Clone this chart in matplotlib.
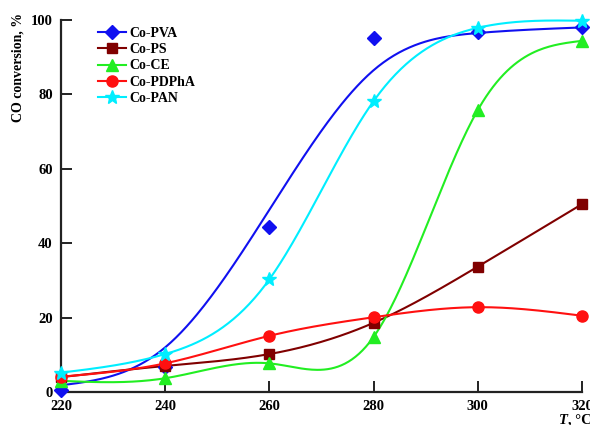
import numpy as np
import matplotlib
matplotlib.use("Agg")
import matplotlib.pyplot as plt
from matplotlib.lines import Line2D

temps = [220, 240, 260, 280, 300, 320]
co_pva = [0.5, 6.8, 44.4, 95.2, 96.9, 98.2]
co_pva_fit = [1.8, 12.0, 49.0, 86.5, 96.5, 98.0]
co_ps = [4.0, 7.0, 10.2, 18.6, 33.7, 50.5]
co_ce = [3.0, 3.7, 7.7, 14.8, 75.8, 94.4]
co_pdpha = [4.1, 7.7, 15.1, 20.1, 22.8, 20.5]
co_pan = [5.2, 10.2, 30.3, 78.2, 97.9, 99.8]
xticks = [220, 240, 260, 280, 300, 320]
yticks = [0, 20, 40, 60, 80, 100]


def natural_spline(x, y, n=300):
    x = np.asarray(x, float)
    y = np.asarray(y, float)
    m = len(x)
    h = np.diff(x)
    A = np.zeros((m, m))
    b = np.zeros(m)
    A[0, 0] = 1
    A[-1, -1] = 1
    for i in range(1, m - 1):
        A[i, i - 1] = h[i - 1]
        A[i, i] = 2 * (h[i - 1] + h[i])
        A[i, i + 1] = h[i]
        b[i] = 6 * ((y[i + 1] - y[i]) / h[i] - (y[i] - y[i - 1]) / h[i - 1])
    M = np.linalg.solve(A, b)
    xs = np.linspace(x[0], x[-1], n)
    ys = np.empty_like(xs)
    for k, xv in enumerate(xs):
        i = min(np.searchsorted(x, xv, side="right") - 1, m - 2)
        t1 = x[i + 1] - xv
        t0 = xv - x[i]
        hi = h[i]
        ys[k] = (M[i] * t1 ** 3 / (6 * hi) + M[i + 1] * t0 ** 3 / (6 * hi)
                 + (y[i] / hi - M[i] * hi / 6) * t1
                 + (y[i + 1] / hi - M[i + 1] * hi / 6) * t0)
    return xs, ys


plt.rcParams['font.family'] = ['Liberation Serif', 'DejaVu Serif']
plt.rcParams['font.weight'] = 'bold'

fig = plt.figure(figsize=(5.9, 4.25), dpi=100)
ax = fig.add_axes([61 / 590, 1 - 392 / 425, 521 / 590, 372 / 425])

series = [
    ("Co-PVA", co_pva, co_pva_fit, '#1010F0', 'D', 7),
    ("Co-PS", co_ps, co_ps, '#800000', 's', 6.5),
    ("Co-CE", co_ce, co_ce, '#22EE22', '^', 8),
    ("Co-PDPhA", co_pdpha, co_pdpha, '#FF1010', 'o', 8),
    ("Co-PAN", co_pan, co_pan, '#00EEFF', '*', 10),
]

handles = []
for name, pts, curve, color, mk, ms in series:
    xs, ys = natural_spline(temps, curve)
    ax.plot(xs, ys, color=color, lw=1.5, clip_on=False, zorder=2)
    ax.plot(temps, pts, linestyle='none', marker=mk, color=color, ms=ms,
            clip_on=False, zorder=3)
    handles.append(Line2D([], [], color=color, lw=1.5, marker=mk, ms=ms))

ax.set_xlim(220, 320)
ax.set_ylim(0, 100)
ax.set_xticks(xticks)
ax.set_yticks(yticks)
for s in ['top', 'right']:
    ax.spines[s].set_visible(False)
for s in ['left', 'bottom']:
    ax.spines[s].set_linewidth(1.6)
    ax.spines[s].set_color('#222222')
ax.tick_params(direction='in', length=8, width=1.4, color='#222222',
               labelsize=10.5, pad=6)
for lbl in ax.get_xticklabels() + ax.get_yticklabels():
    lbl.set_fontweight('bold')

leg = ax.legend(handles, [s[0] for s in series], loc='upper left',
                bbox_to_anchor=(37 / 521, 0.982), frameon=False,
                borderaxespad=0, borderpad=0,
                prop={'family': 'Liberation Serif', 'weight': 'bold', 'size': 10},
                handlelength=2.0, handletextpad=0.25, labelspacing=0.24)

fig.text(18 / 590, 1 - 67 / 425, "CO conversion, %", rotation=90,
         ha='center', va='center', fontsize=10, fontweight='bold')
fig.text(559 / 590, 1 - 420 / 425, "T", style='italic', fontweight='bold',
         fontsize=10.5, ha='left', va='center')
fig.text(567.5 / 590, 1 - 420 / 425, ", °C", fontweight='bold',
         fontsize=10.5, ha='left', va='center')

fig.savefig("out.png", dpi=100)
